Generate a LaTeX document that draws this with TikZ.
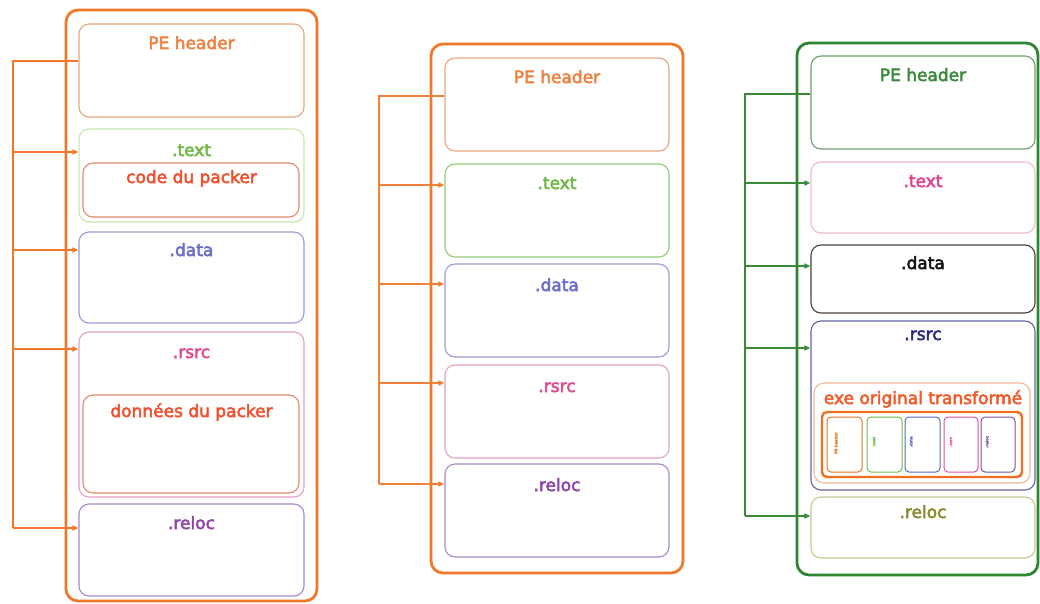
\documentclass[tikz,border=0pt]{standalone}
\usepackage{fontspec}
\setmainfont{DejaVu Sans}
\newfontfamily\labelfont{DejaVu Sans}[FakeBold=3]
\newfontfamily\tinyfont{DejaVu Sans Bold}[FakeBold=1.5]
\usetikzlibrary{arrows.meta,fit}

\definecolor{orA}{HTML}{F07828}
\definecolor{busO}{HTML}{F08038}
\definecolor{hdrBd}{HTML}{E8A57A}
\definecolor{hdrTx}{HTML}{EE8040}
\definecolor{txtTx}{HTML}{6DB845}
\definecolor{txtBdA}{HTML}{C8E6B4}
\definecolor{txtBdB}{HTML}{92CC74}
\definecolor{codeTx}{HTML}{F0502E}
\definecolor{codeBd}{HTML}{E88870}
\definecolor{dataTx}{HTML}{6A6EC8}
\definecolor{dataBd}{HTML}{9C9CD8}
\definecolor{rsrcTx}{HTML}{E04A8E}
\definecolor{rsrcBd}{HTML}{E8A0C0}
\definecolor{relocTx}{HTML}{8E44A8}
\definecolor{relocBd}{HTML}{A68ACA}
\definecolor{grA}{HTML}{2E8530}
\definecolor{busG}{HTML}{3A8A3A}
\definecolor{hdrGTx}{HTML}{3C8A3C}
\definecolor{hdrGBd}{HTML}{6E9E6E}
\definecolor{textPTx}{HTML}{E8408A}
\definecolor{textPBd}{HTML}{F2B8CE}
\definecolor{dataKTx}{HTML}{111111}
\definecolor{dataKBd}{HTML}{4A4038}
\definecolor{rsrcNTx}{HTML}{2A2A80}
\definecolor{rsrcNBd}{HTML}{6464AA}
\definecolor{exeTx}{HTML}{F05A28}
\definecolor{exeBd}{HTML}{F2B898}
\definecolor{exeIn}{HTML}{F07020}
\definecolor{relocOTx}{HTML}{8A8A30}
\definecolor{relocOBd}{HTML}{C8C890}
\definecolor{miniG}{HTML}{6CC04A}
\definecolor{miniB}{HTML}{5A6AC0}
\definecolor{miniP}{HTML}{E050A0}
\definecolor{miniV}{HTML}{8050A0}

\tikzset{
  outerbox/.style={draw=#1, line width=2.8pt, rounded corners=12pt, inner sep=0pt},
  secbox/.style={draw=#1, line width=1.1pt, rounded corners=10pt, inner sep=0pt},
  minibox/.style={draw=#1, line width=1pt, rounded corners=4pt, inner sep=0pt},
  lbl/.style={text=#1, font=\labelfont\fontsize{17}{20}\selectfont, inner sep=0pt,
              text height=12pt, text depth=0pt},
  minilbl/.style={text=#1, font=\tinyfont\fontsize{3.8}{4}\selectfont,
                  inner sep=0pt, rotate=90},
  bus/.style={draw=#1, line width=1.6pt},
  tap/.style={draw=#1, line width=1.6pt, -{Triangle[length=6pt,width=5pt]}},
}

\begin{document}
\begin{tikzpicture}[x=1pt,y=-1pt]
\fill[white] (0,0) rectangle (1040,604);
\useasboundingbox (0,0) rectangle (1040,604);

% ---------- packed executable (packer code in .text) ----------
\node[outerbox=orA, fit={(66,10) (317,601)}] (outA) {};
\node[secbox=hdrBd, fit={(79,24) (304,117)}] (hdrA) {};
\node[secbox=txtBdA, fit={(79,129) (304,222)}] (txtA) {};
\node[secbox=codeBd, fit={(83,163) (299,217)}] (codeA) {};
\node[secbox=dataBd, fit={(79,232) (304,323)}] (dataA) {};
\node[secbox=rsrcBd, fit={(79,332) (304,497)}] (rsrcA) {};
\node[secbox=codeBd, fit={(83,395) (299,493)}] (donA) {};
\node[secbox=relocBd, fit={(79,504) (304,596)}] (relA) {};

\node[lbl=hdrTx] (hdrAl) at (191.5,43) {PE header};
\node[lbl=txtTx] (txtAl) at (191.5,150) {.text};
\node[lbl=codeTx] (codeAl) at (191.5,177) {code du packer};
\node[lbl=dataTx] (dataAl) at (191.5,250) {.data};
\node[lbl=rsrcTx] (rsrcAl) at (191.5,352) {.rsrc};
\node[lbl=codeTx] (donAl) at (191.5,411) {données du packer};
\node[lbl=relocTx] (relAl) at (191.5,523) {.reloc};

\coordinate (busAtop) at (13,61);
\coordinate (busA1) at (13,152);
\coordinate (busA2) at (13,250);
\coordinate (busA3) at (13,349);
\coordinate (busA4) at (13,528);
\draw[bus=orA] (busAtop -| hdrA.west) -- (busAtop) -- (busA4);
\draw[tap=orA] (busA1) -- (busA1 -| txtA.west);
\draw[tap=orA] (busA2) -- (busA2 -| dataA.west);
\draw[tap=orA] (busA3) -- (busA3 -| rsrcA.west);
\draw[tap=orA] (busA4) -- (busA4 -| relA.west);

% ---------- original executable ----------
\node[outerbox=orA, fit={(431,44) (683,573)}] (outB) {};
\node[secbox=hdrBd, fit={(445,58) (669,151)}] (hdrB) {};
\node[secbox=txtBdB, fit={(445,164) (669,257)}] (txtB) {};
\node[secbox=dataBd, fit={(445,264) (669,357)}] (dataB) {};
\node[secbox=rsrcBd, fit={(445,365) (669,458)}] (rsrcB) {};
\node[secbox=relocBd, fit={(445,464) (669,557)}] (relB) {};

\node[lbl=hdrTx] (hdrBl) at (557,77) {PE header};
\node[lbl=txtTx] (txtBl) at (557,183) {.text};
\node[lbl=dataTx] (dataBl) at (557,285) {.data};
\node[lbl=rsrcTx] (rsrcBl) at (557,386) {.rsrc};
\node[lbl=relocTx] (relBl) at (557,485) {.reloc};

\coordinate (busBtop) at (379,96);
\coordinate (busB1) at (379,185);
\coordinate (busB2) at (379,284);
\coordinate (busB3) at (379,383);
\coordinate (busB4) at (379,484);
\draw[bus=busO] (busBtop -| hdrB.west) -- (busBtop) -- (busB4);
\draw[tap=busO] (busB1) -- (busB1 -| txtB.west);
\draw[tap=busO] (busB2) -- (busB2 -| dataB.west);
\draw[tap=busO] (busB3) -- (busB3 -| rsrcB.west);
\draw[tap=busO] (busB4) -- (busB4 -| relB.west);

% ---------- packed executable (original stored in .rsrc) ----------
\node[outerbox=grA, fit={(797,43) (1038,575)}] (outC) {};
\node[secbox=hdrGBd, fit={(811,56) (1035,149)}] (hdrC) {};
\node[secbox=textPBd, fit={(811,162) (1035,233)}] (txtC) {};
\node[secbox=dataKBd, fit={(811,245) (1035,313)}] (dataC) {};
\node[secbox=rsrcNBd, fit={(811,321) (1035,490)}] (rsrcC) {};
\node[secbox=exeBd, fit={(814,383) (1030,483)}] (exeC) {};
\node[secbox=exeIn, line width=2.4pt, rounded corners=5pt, fit={(822,412) (1022,477)}] (exeIn) {};
\node[secbox=relocOBd, fit={(811,497) (1035,558)}] (relC) {};

\node[minibox=exeIn, fit={(827,417) (862,472)}] (mH) {};
\node[minibox=miniG, fit={(867,417) (902,472)}] (mT) {};
\node[minibox=miniB, fit={(905,417) (940,472)}] (mD) {};
\node[minibox=miniP, fit={(944,417) (978,472)}] (mR) {};
\node[minibox=miniV, fit={(981,417) (1015,472)}] (mL) {};
\node[minilbl=exeIn] (mHl) at (836,443) {PE header};
\node[minilbl=miniG] (mTl) at (874,442) {.text};
\node[minilbl=miniB] (mDl) at (911,442) {.data};
\node[minilbl=miniP] (mRl) at (951,442) {.rsrc};
\node[minilbl=miniV] (mLl) at (987,442) {.reloc};

\node[lbl=hdrGTx] (hdrCl) at (923,75) {PE header};
\node[lbl=textPTx] (txtCl) at (923,181) {.text};
\node[lbl=dataKTx] (dataCl) at (923,263) {.data};
\node[lbl=rsrcNTx] (rsrcCl) at (923,334) {.rsrc};
\node[lbl=exeTx] (exeCl) at (923,398) {exe original transformé};
\node[lbl=relocOTx] (relCl) at (923,512) {.reloc};

\coordinate (busCtop) at (745,94);
\coordinate (busC1) at (745,183);
\coordinate (busC2) at (745,266);
\coordinate (busC3) at (745,348);
\coordinate (busC4) at (745,516);
\draw[bus=busG] (busCtop -| hdrC.west) -- (busCtop) -- (busC4);
\draw[tap=busG] (busC1) -- (busC1 -| txtC.west);
\draw[tap=busG] (busC2) -- (busC2 -| dataC.west);
\draw[tap=busG] (busC3) -- (busC3 -| rsrcC.west);
\draw[tap=busG] (busC4) -- (busC4 -| relC.west);
\end{tikzpicture}
\end{document}
